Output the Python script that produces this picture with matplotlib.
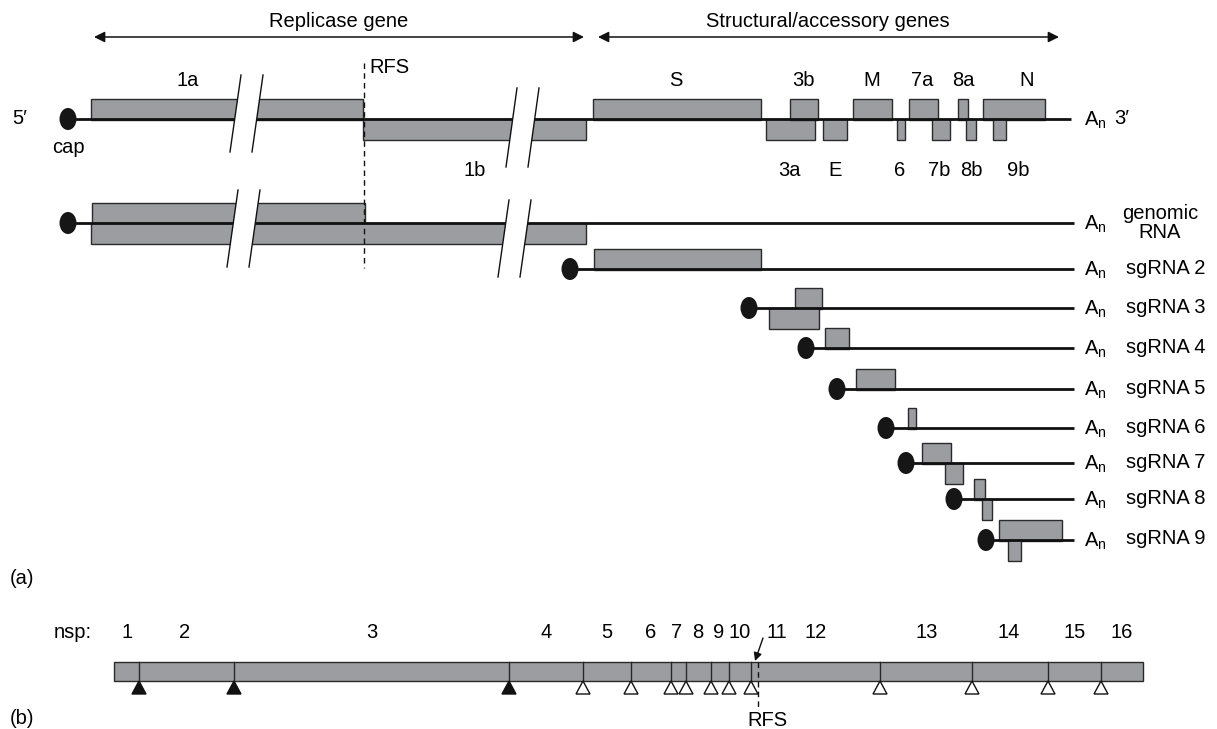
import matplotlib.pyplot as plt
from matplotlib.patches import Rectangle, Ellipse, Polygon

plt.rcParams["font.family"] = ["Liberation Sans", "DejaVu Sans"]

GRAY = "#9c9da1"
EDGE = "#2a2a2a"
FS = 14.5

# --- (a) genome map: ORFs along the genome (drawing units), frame +1 above the line, -1 below
orf_names = ["1a", "1b", "S", "3a", "3b", "E", "M", "6", "7a", "7b", "8a", "8b", "N", "9b"]
orf_start = [91, 363, 593, 766, 790, 823, 853, 897, 909, 932, 958, 966, 983, 993]
orf_end = [363, 586, 761, 815, 818, 847, 892, 905, 938, 950, 968, 976, 1045, 1006]
orf_frame = [1, -1, 1, -1, 1, -1, 1, -1, 1, -1, 1, -1, 1, -1]
orf_label_x = [188, 475, 676, 789, 803, 835, 872, 900, 922, 939, 963, 971, 1027, 1018]

# --- RNA species: genomic + subgenomic mRNAs
rna_names = ["genomic\nRNA", "sgRNA 2", "sgRNA 3", "sgRNA 4", "sgRNA 5",
             "sgRNA 6", "sgRNA 7", "sgRNA 8", "sgRNA 9"]
rna_y = [223, 269, 308, 348, 389, 428, 463, 499, 540]
rna_cap = [68, 570, 749, 806, 837, 886, 906, 954, 986]

# ORFs drawn on each RNA (row index into rna_*)
rna_orf_row = [0, 0, 1, 2, 2, 3, 4, 5, 6, 6, 7, 7, 8, 8]
rna_orf_start = [92, 91, 594, 795, 769, 825, 856, 908, 922, 945, 974, 982, 999, 1008]
rna_orf_end = [365, 586, 761, 822, 819, 849, 895, 916, 951, 963, 985, 992, 1062, 1021]
rna_orf_frame = [1, -1, 1, 1, -1, 1, 1, 1, 1, -1, 1, -1, 1, -1]

# break marks (x of first slash at bottom, y top, y bottom)
break_x = [230, 506, 227, 498]
break_top = [75, 88, 190, 200]
break_bot = [152, 167, 267, 277]

# --- (b) nsp map
nsp_bounds = [114, 139, 234, 509, 583, 631, 671, 686, 711, 729, 751, 880, 972, 1048, 1101, 1143]
nsp_labels = [str(i) for i in range(1, 17)]
nsp_label_x = [127, 185, 372, 546, 607, 651, 677, 698, 719, 740, 777, 816, 927, 1009, 1075, 1122]
plpro_sites = 3  # first three cleavage sites are PLpro (filled)

fig = plt.figure(figsize=(12.17, 7.29), dpi=100)
ax = fig.add_axes([0, 0, 1, 1])
ax.set_xlim(0, 1217)
ax.set_ylim(729, 0)
ax.axis("off")

BH = 20  # box height


def orf_box(x0, x1, y, frame):
    top = y - BH if frame > 0 else y
    ax.add_patch(Rectangle((x0, top), x1 - x0, BH + 1, facecolor=GRAY,
                           edgecolor=EDGE, lw=1.0, zorder=2))


def cap(x, y):
    ax.add_patch(Ellipse((x, y), 17, 22, facecolor="#161616", edgecolor="none", zorder=5))


def double_arrow(x0, x1, y):
    ax.annotate("", xy=(x1, y), xytext=(x0, y),
                arrowprops=dict(arrowstyle="<|-|>", color="#111111", lw=1.1,
                                mutation_scale=16, shrinkA=0, shrinkB=0))


# header arrows
double_arrow(94, 584, 37)
double_arrow(598, 1059, 37)
ax.text(339, 21, "Replicase gene", fontsize=FS, ha="center", va="center")
ax.text(828, 21, "Structural/accessory genes", fontsize=FS, ha="center", va="center")

# top genome map
top_y = 119
ax.plot([68, 1071], [top_y, top_y], color="#111111", lw=2, zorder=3, solid_capstyle="butt")
cap(68, top_y)
for name, s, e, f, lx in zip(orf_names, orf_start, orf_end, orf_frame, orf_label_x):
    orf_box(s, e, top_y, f)
    ax.text(lx, 80 if f > 0 else 170, name, fontsize=FS, ha="center", va="center")
ax.text(20, top_y - 1, "5\u2032", fontsize=FS, ha="center", va="center")
ax.text(68, 147, "cap", fontsize=FS, ha="center", va="center")
ax.text(1084, top_y + 1, "A$_\\mathregular{n}$", fontsize=FS, ha="left", va="center")
ax.text(1114, top_y - 1, "3\u2032", fontsize=FS, ha="left", va="center")

# RFS dashed line
ax.plot([364, 364], [63, 268], color="#111111", lw=1, ls=(0, (4, 3)), zorder=4)
ax.text(369, 67, "RFS", fontsize=FS, ha="left", va="center")

# RNA species
for name, y, cx in zip(rna_names, rna_y, rna_cap):
    ax.plot([cx, 1074], [y, y], color="#111111", lw=2, zorder=3, solid_capstyle="butt")
    cap(cx, y)
    ax.text(1084, y + 1, "A$_\\mathregular{n}$", fontsize=FS, ha="left", va="center")
    if "\n" in name:
        ax.text(1160, y, name, fontsize=FS, ha="center", va="center", linespacing=1.05)
    else:
        ax.text(1126, y - 1, name, fontsize=FS, ha="left", va="center")
for r, s, e, f in zip(rna_orf_row, rna_orf_start, rna_orf_end, rna_orf_frame):
    orf_box(s, e, rna_y[r], f)

# break marks
GAP, SLANT = 22, 11
for bx, yt, yb in zip(break_x, break_top, break_bot):
    ax.add_patch(Polygon([(bx, yb), (bx + SLANT, yt), (bx + SLANT + GAP, yt), (bx + GAP, yb)],
                         closed=True, facecolor="white", edgecolor="none", zorder=6))
    for off in (0, GAP):
        ax.plot([bx + off, bx + off + SLANT], [yb, yt], color="#111111", lw=1, zorder=7)

ax.text(10, 578, "(a)", fontsize=FS, ha="left", va="center")

# (b) nsp bar
bar_top, bar_bot = 662, 681
ax.add_patch(Rectangle((nsp_bounds[0], bar_top), nsp_bounds[-1] - nsp_bounds[0],
                       bar_bot - bar_top, facecolor=GRAY, edgecolor=EDGE, lw=1.0, zorder=2))
for i, bx in enumerate(nsp_bounds[1:-1]):
    ax.plot([bx, bx], [bar_top, bar_bot], color=EDGE, lw=1.0, zorder=3)
    filled = i < plpro_sites
    ax.add_patch(Polygon([(bx, bar_bot), (bx - 7, bar_bot + 13), (bx + 7, bar_bot + 13)],
                         closed=True, facecolor="#111111" if filled else "white",
                         edgecolor="#111111", lw=1.0, zorder=4))
ax.text(73, 632, "nsp:", fontsize=FS, ha="center", va="center")
for lab, lx in zip(nsp_labels, nsp_label_x):
    ax.text(lx, 632, lab, fontsize=FS, ha="center", va="center")

ax.plot([758, 758], [bar_top, 710], color="#111111", lw=1, ls=(0, (4, 3)), zorder=5)
ax.text(767, 721, "RFS", fontsize=FS, ha="center", va="center")
ax.annotate("", xy=(755, 661), xytext=(763, 638),
            arrowprops=dict(arrowstyle="-|>", color="#111111", lw=1.0,
                            mutation_scale=12, shrinkA=0, shrinkB=0))

ax.text(10, 718, "(b)", fontsize=FS, ha="left", va="center")

fig.savefig("out.png", dpi=100)
